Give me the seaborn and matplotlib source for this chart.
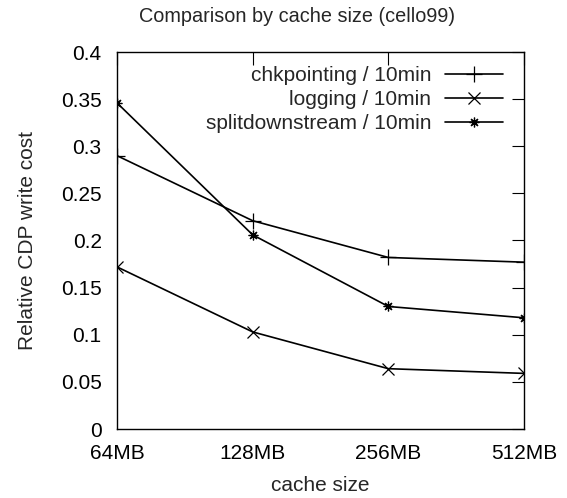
import matplotlib
matplotlib.use("Agg")
import matplotlib.pyplot as plt
import seaborn as sns
import pandas as pd

categories = ["64MB", "128MB", "256MB", "512MB"]
chkpointing = [0.290, 0.221, 0.182, 0.177]
logging_ = [0.172, 0.103, 0.064, 0.059]
splitdownstream = [0.346, 0.206, 0.130, 0.118]
series_names = ["chkpointing / 10min", "logging / 10min", "splitdownstream / 10min"]
yticks = [0, 0.05, 0.1, 0.15, 0.2, 0.25, 0.3, 0.35, 0.4]
ytick_labels = ["0", "0.05", "0.1", "0.15", "0.2", "0.25", "0.3", "0.35", "0.4"]

sns.set_style("white")
plt.rcParams["font.family"] = ["Liberation Sans", "DejaVu Sans"]
FS = 15
plt.rcParams["font.size"] = FS

rows = []
for name, vals in zip(series_names, [chkpointing, logging_, splitdownstream]):
    for i, (c, v) in enumerate(zip(categories, vals)):
        rows.append({"series": name, "pos": i, "cache": c, "value": v})
df = pd.DataFrame(rows)

fig = plt.figure(figsize=(5.67, 4.98), dpi=100)
ax = fig.add_axes([117/567, 69/498, 407/567, 377/498])

markers = {"chkpointing / 10min": "+", "logging / 10min": "x", "splitdownstream / 10min": (8, 2, 0)}
sizes = {"chkpointing / 10min": 11, "logging / 10min": 8, "splitdownstream / 10min": 7}
for name in series_names:
    sub = df[df["series"] == name]
    sns.lineplot(data=sub, x="pos", y="value", ax=ax, color="black", linewidth=1.2,
                 marker=markers[name], markersize=sizes[name], markeredgewidth=0.9,
                 markeredgecolor="black", label=name)

ax.set_xlim(0, 3)
ax.set_ylim(0, 0.4)
ax.set_xticks(range(len(categories)))
ax.set_xticklabels(categories)
ax.set_yticks(yticks)
ax.set_yticklabels(ytick_labels)
ax.tick_params(axis="both", direction="in", length=9, width=0.8, labelsize=FS,
               top=True, right=True, colors="black")
ax.tick_params(axis="x", pad=11)
ax.tick_params(axis="y", pad=11)
for s in ax.spines.values():
    s.set_color("black")
    s.set_linewidth(1.0)

ax.set_xlabel("cache size", fontsize=FS)
ax.set_ylabel("Relative CDP write cost", fontsize=FS)
ax.xaxis.set_label_coords(0.5, -(476 - 429) / 377)
ax.yaxis.set_label_coords((37 - 117) / 407, 0.5)
fig.text(297/567, 1 - 16/498, "Comparison by cache size (cello99)", ha="center", va="center", fontsize=14.3)

leg = ax.legend(loc="upper right", frameon=False, markerfirst=False, handlelength=2.75,
                handletextpad=0.67, labelspacing=0.25, fontsize=FS,
                bbox_to_anchor=(0.968, 0.985), borderaxespad=0)

fig.savefig("out.png", dpi=100)
